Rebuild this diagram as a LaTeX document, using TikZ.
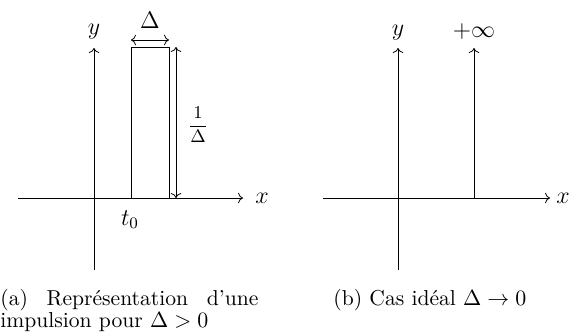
\documentclass[tikz,border=0pt]{standalone}
\usepackage{amsmath,amssymb}
\usepackage{tikz}
\usetikzlibrary{calc,arrows.meta,positioning}
\newcommand{\legfont}{\fontsize{10.8}{11}\selectfont}
\tikzset{
  ax/.style={->,thin},
  dim/.style={<->,thin},
  lbl/.style={font=\fontsize{12}{14}\selectfont,inner sep=0pt,anchor=base},
  legende/.style={font=\legfont,inner sep=0pt,anchor=base west}
}
\begin{document}
\begin{tikzpicture}[x=0.5pt,y=0.5pt]
\useasboundingbox (0,0) rectangle (571,333);
% (a) impulsion de largeur Delta
\coordinate (Oa) at (94,135);
\coordinate (XaL) at (18,135); \coordinate (XaR) at (243,135);
\coordinate (YaB) at (94,63); \coordinate (YaT) at (94,285);
\coordinate (P) at (131,135); \coordinate (Q) at (169,286);
\coordinate (W0) at (131,293); \coordinate (W1) at (169,293);
\coordinate (H0) at (176,135); \coordinate (H1) at (176,286);
\draw[ax] (XaL) -- (XaR);
\draw[ax] (YaB) -- (YaT);
\draw[thin] (P) rectangle (Q);
\draw[dim] (W0) -- (W1);
\draw[dim] (H0) -- (H1);
\node[lbl] (ya) at (94,299) {$y$};
\node[lbl] (xa) at (262,130) {$x$};
\node[lbl] (delta) at (150,305) {$\Delta$};
\node[lbl,anchor=center,font=\fontsize{9}{11}\selectfont] (haut) at (198,208) {$\dfrac{1}{\Delta}$};
\node[lbl] (tz) at (130,108) {$t_0$};
% (b) cas ideal
\coordinate (Ob) at (398,135);
\coordinate (XbL) at (323,135); \coordinate (XbR) at (550,135);
\coordinate (YbB) at (398,63); \coordinate (YbT) at (398,285);
\coordinate (S0) at (474,135); \coordinate (S1) at (474,285);
\draw[ax] (XbL) -- (XbR);
\draw[ax] (YbB) -- (YbT);
\draw[ax] (S0) -- (S1);
\node[lbl] (yb) at (398,298) {$y$};
\node[lbl] (xb) at (563,130) {$x$};
\node[lbl] (inf) at (474,296) {$+\infty$};
% legendes
\node[legende,anchor=base west,text width=129pt,align=justify] (capa) at (0,28)
  {(a) Représentation d'une impulsion pour $\Delta>0$};
\node[legende] (capb) at (333,28) {(b) Cas idéal $\Delta\to0$};
\end{tikzpicture}
\end{document}
